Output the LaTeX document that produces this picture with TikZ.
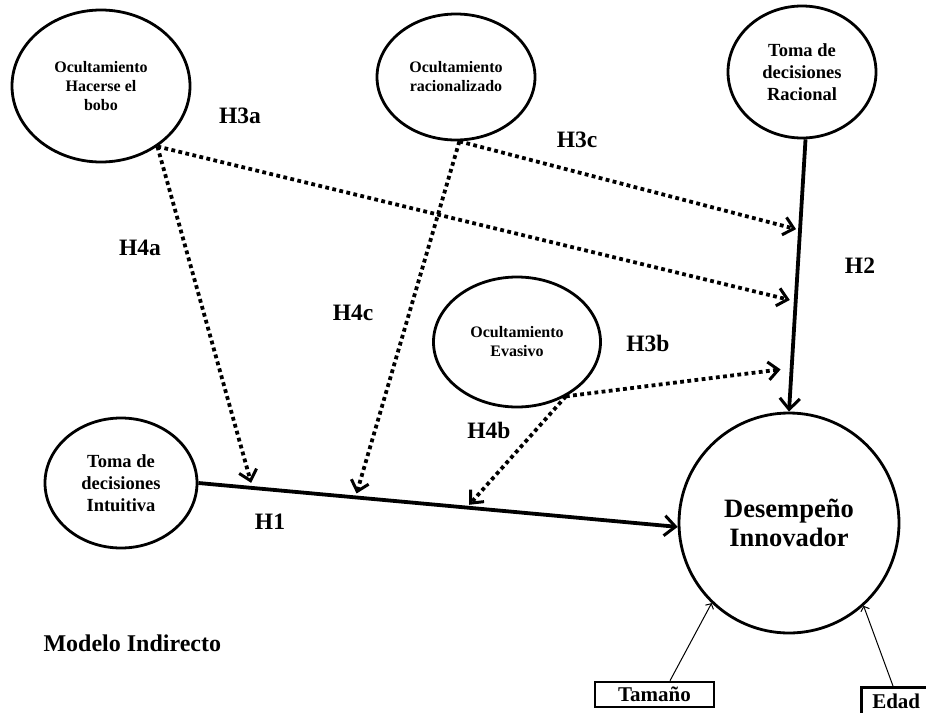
\documentclass[tikz,border=0pt]{standalone}
\usepackage{fontspec}
\setmainfont{Liberation Serif}
\usetikzlibrary{arrows.meta,calc,shapes.geometric}
\begin{document}
\begin{tikzpicture}[x=1pt,y=-1pt,
  lat/.style={draw,ellipse,line width=2.8pt,inner sep=0pt,align=center,font=\bfseries},
  small/.style={font=\bfseries\fontsize{16}{19}\selectfont},
  mid/.style={font=\bfseries\fontsize{18.5}{22}\selectfont},
  solidarrow/.style={line width=3.8pt,-{Straight Barb[length=11pt,width=20pt,line width=3pt]}},
  dotarrow/.style={line width=3.8pt,dash pattern=on 3.8pt off 3.4pt,-{Straight Barb[length=10pt,width=18pt,line width=3pt]}},
  thinarrow/.style={line width=1pt,-{Straight Barb[length=4pt,width=9pt,line width=1pt]}},
  lbl/.style={font=\bfseries\fontsize{23.5}{25}\selectfont},
  ctrl/.style={draw,line width=2.6pt,inner sep=0pt,font=\bfseries\fontsize{21}{22}\selectfont}]
\useasboundingbox (0,0) rectangle (926,712);

\node[lat,small,minimum width=178pt,minimum height=152pt] (bobo) at (101,86) {Ocultamiento\\Hacerse el\\bobo};
\node[lat,small,minimum width=158pt,minimum height=126pt] (rac) at (456,77) {Ocultamiento\\racionalizado};
\node[lat,mid,minimum width=148pt,minimum height=132pt] (trac) at (802,72) {Toma de\\decisiones\\Racional};
\node[lat,small,minimum width=167pt,minimum height=130pt] (eva) at (517,342) {Ocultamiento\\Evasivo};
\node[lat,mid,minimum width=152pt,minimum height=130pt] (int) at (121,483) {Toma de\\decisiones\\Intuitiva};
\node[lat,minimum width=220pt,minimum height=220pt,font=\bfseries\fontsize{26.5}{29}\selectfont] (des) at (789,523) {Desempeño\\Innovador};

\node[ctrl,minimum width=119pt,minimum height=25pt] (tam) at (654.5,694.5) {Tamaño};
\node[ctrl,anchor=north west,inner xsep=11pt,inner ysep=5pt,minimum height=34pt,text depth=6pt] (edad) at (860,686) {Edad};

% solid paths
\draw[solidarrow] (int.east) -- (des.182);
\draw[solidarrow] (trac.-87) -- (des.north);

% points on paths
\coordinate (p4a) at ($(int.east)!0.11!(des.182)+(0,-5)$);
\coordinate (p4c) at ($(int.east)!0.33!(des.182)+(0,-4)$);
\coordinate (p4b) at ($(int.east)!0.565!(des.182)+(0,-3)$);
\coordinate (p3c) at ($(trac.-87)!0.33!(des.north)+(-4,0)$);
\coordinate (p3a) at ($(trac.-87)!0.59!(des.north)+(-6,0)$);
\coordinate (p3b) at ($(trac.-87)!0.845!(des.north)+(-11,0)$);

\draw[dotarrow] (bobo.-47) -- (p3a);
\draw[dotarrow] (bobo.-47) -- (p4a);
\draw[dotarrow] (rac.-87) -- (p3c);
\draw[dotarrow] (rac.-87) -- (p4c);
\draw[dotarrow] (eva.-48) -- (p3b);
\draw[dotarrow] (eva.-48) -- (p4b);

\coordinate (tamtop) at ($(tam.north)+(15.5,0)$);
\draw[thinarrow] (tamtop) -- (des.-134);
\coordinate (edadtop) at ($(edad.north west)+(33,0)$);
\draw[thinarrow] (edadtop) -- (des.-48);

\node[lbl] (h3a) at (240,116) {H3a};
\node[lbl] (h4a) at (140,248) {H4a};
\node[lbl] (h3c) at (577,140) {H3c};
\node[lbl] (h4c) at (353,313) {H4c};
\node[lbl] (h2) at (860,266) {H2};
\node[lbl] (h3b) at (648,343) {H3b};
\node[lbl] (h4b) at (489,430) {H4b};
\node[lbl] (h1) at (270,522) {H1};
\node[font=\bfseries\fontsize{24}{26}\selectfont,anchor=west] (modelo) at (40,643) {Modelo Indirecto};
\end{tikzpicture}
\end{document}
